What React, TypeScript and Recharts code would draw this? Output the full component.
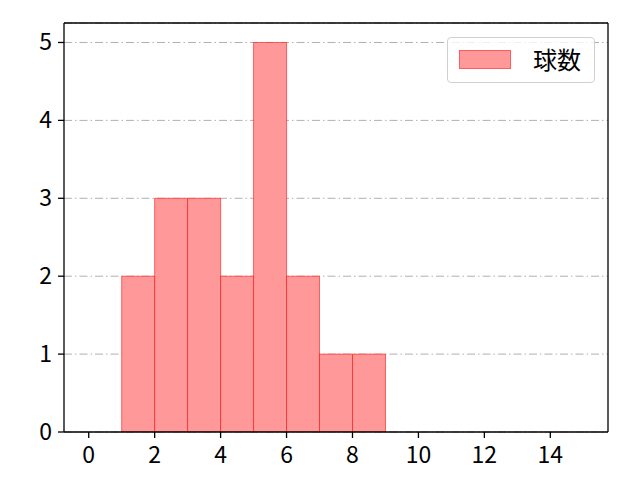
import {
  Bar,
  BarChart,
  CartesianGrid,
  Legend,
  ReferenceLine,
  XAxis,
  YAxis,
} from "recharts";

const binCenters = [1.5, 2.5, 3.5, 4.5, 5.5, 6.5, 7.5, 8.5];
const counts = [2, 3, 3, 2, 5, 2, 1, 1];
const xTicks = [0, 2, 4, 6, 8, 10, 12, 14];
const yTicks = [0, 1, 2, 3, 4, 5];
const seriesName = "球数";

const data = binCenters.map((x, i) => ({ x, count: counts[i] }));

const FONT = '"Noto Sans CJK JP", "Noto Sans", sans-serif';
const TICK_FONT_SIZE = 23;

function XTick(props: any) {
  const { x, y, payload } = props;
  return (
    <text
      x={x}
      y={y + 23}
      textAnchor="middle"
      fontFamily={FONT}
      fontSize={TICK_FONT_SIZE}
      fill="#000"
    >
      {payload.value}
    </text>
  );
}

function YTick(props: any) {
  const { x, y, payload } = props;
  return (
    <text
      x={x - 4}
      y={y + 8}
      textAnchor="end"
      fontFamily={FONT}
      fontSize={TICK_FONT_SIZE}
      fill="#000"
    >
      {payload.value}
    </text>
  );
}

function LegendBox() {
  return (
    <div
      style={{
        position: "absolute",
        left: 447,
        top: 37,
        width: 148,
        height: 46,
        border: "1px solid #d0d0d0",
        borderRadius: 4,
        background: "rgba(255,255,255,0.8)",
        boxSizing: "border-box",
        fontFamily: FONT,
        color: "#000",
      }}
    >
      <div
        style={{
          position: "absolute",
          left: 11,
          top: 12,
          width: 52,
          height: 19,
          background: "#ff9999",
          border: "1px solid rgba(255,0,0,0.4)",
          boxSizing: "border-box",
        }}
      />
      <div
        style={{
          position: "absolute",
          left: 85,
          top: 6,
          lineHeight: "30px",
          fontSize: 24,
          whiteSpace: "nowrap",
        }}
      >
        {seriesName}
      </div>
    </div>
  );
}

export default function App() {
  return (
    <div style={{ position: "absolute", left: 0, top: 0, width: 640, height: 480, background: "#fff" }}>
      <BarChart
        width={640}
        height={480}
        data={data}
        margin={{ top: 23, right: 32, left: 0, bottom: 0 }}
        barCategoryGap={0}
        barGap={0}
      >
        <CartesianGrid
          horizontal
          vertical={false}
          stroke="#b0b0b0"
          strokeDasharray="8 3 1.5 3"
        />
        <XAxis
          dataKey="x"
          type="number"
          domain={[-0.75, 15.75]}
          ticks={xTicks}
          allowDataOverflow
          height={48}
          tick={<XTick />}
          tickLine={{ stroke: "#000", strokeWidth: 1.3 }}
          tickSize={6}
          axisLine={{ stroke: "#000", strokeWidth: 1.3 }}
        />
        <YAxis
          type="number"
          domain={[0, 5.25]}
          ticks={yTicks}
          allowDataOverflow
          width={64}
          tick={<YTick />}
          tickLine={{ stroke: "#000", strokeWidth: 1.3 }}
          tickSize={6}
          axisLine={{ stroke: "#000", strokeWidth: 1.3 }}
        />
        <ReferenceLine y={5.25} stroke="#000" strokeWidth={1.3} />
        <ReferenceLine x={15.75} stroke="#000" strokeWidth={1.3} />
        <Bar
          dataKey="count"
          name={seriesName}
          fill="#ff9999"
          stroke="rgba(255,0,0,0.55)"
          strokeWidth={1}
          isAnimationActive={false}
        />
        <Legend content={() => <LegendBox />} wrapperStyle={{ position: "absolute", left: 0, top: 0 }} />
      </BarChart>
    </div>
  );
}
